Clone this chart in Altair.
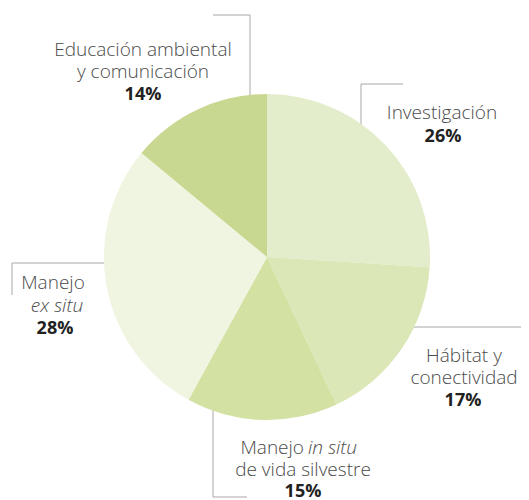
import altair as alt
import pandas as pd

# ---- data ----
categories = ["Investigación", "Hábitat y conectividad", "Manejo in situ de vida silvestre",
              "Manejo ex situ", "Educación ambiental y comunicación"]
values = [26, 17, 15, 28, 14]
colors = ["#e3edcb", "#dbe7b7", "#d3e1a3", "#eff5e1", "#c9d891"]

# label text lines (text, style) per category
label_lines = [
    [("Investigación", "normal")],
    [("Hábitat y", "normal"), ("conectividad", "normal")],
    [("Manejo", "normal"), ("in situ", "italic"), ("de vida silvestre", "normal")],
    [("Manejo", "normal"), ("ex situ", "italic")],
    [("Educación ambiental", "normal"), ("y comunicación", "normal")],
]

# ---- layout (chart pixel coordinates) ----
W, H = 513, 492
CX, CY, R = 259, 249, 163
label_pos = [
    # list of (x, baseline y, align) per line, then percent position
    ([(434, 111, "center")], (435, 134)),
    ([(456, 354, "center"), (456, 376, "center")], (455, 398)),
    ([(296, 446, "right"), (300, 446, "left"), (295, 468, "center")], (295, 489)),
    ([(45, 281, "center"), (49, 304, "center")], (47, 326)),
    ([(135, 48, "center"), (135, 70, "center")], (135, 92)),
]
segments = [
    (205, 7, 242, 7), (242, 7, 242, 100),
    (353, 76, 395, 76), (353, 76, 353, 130),
    (400, 319, 513, 319),
    (205, 390, 205, 489), (205, 489, 239, 489),
    (4, 255, 110, 255), (4, 255, 4, 287),
]

pie_df = pd.DataFrame({"cat": categories, "val": values, "ord": list(range(len(values)))})

rows = []
for lines, (pos, ppos), v in zip(label_lines, label_pos, values):
    for (t, st), (x, y, a) in zip(lines, pos):
        rows.append({"t": t, "x": x, "y": y, "style": st, "align": a})
    rows.append({"t": f"{v}%", "x": ppos[0], "y": ppos[1], "style": "bold", "align": "center"})
txt_df = pd.DataFrame(rows)
seg_df = pd.DataFrame(segments, columns=["x", "y", "x2", "y2"])

rules = alt.Chart(seg_df).mark_rule(color="#a8a8a8", strokeWidth=1).encode(
    x=alt.X("x:Q", scale=None, axis=None), y=alt.Y("y:Q", scale=None, axis=None),
    x2="x2:Q", y2="y2:Q")

pie = alt.Chart(pie_df).mark_arc(outerRadius=R).encode(
    theta=alt.Theta("val:Q", stack=True),
    order=alt.Order("ord:Q"),
    color=alt.Color("cat:N", scale=alt.Scale(domain=categories, range=colors), legend=None),
    x=alt.value(CX), y=alt.value(CY))

FONT = "Open Sans"
def text_layer(style, align):
    d = txt_df[(txt_df["style"] == style) & (txt_df["align"] == align)]
    kw = dict(font=FONT, fontSize=19, align=align, baseline="alphabetic")
    if style == "bold":
        kw.update(fontWeight="bold", color="#222222", fontSize=18)
    elif style == "italic":
        kw.update(fontStyle="italic", color="#4a4a4a", fontWeight=300)
    else:
        kw.update(color="#4a4a4a", fontWeight=300)
    return alt.Chart(d).mark_text(**kw).encode(
        x=alt.X("x:Q", scale=None, axis=None), y=alt.Y("y:Q", scale=None, axis=None), text="t:N")

layers = [rules, pie]
for st in ["normal", "italic", "bold"]:
    for al in ["center", "left", "right"]:
        if ((txt_df["style"] == st) & (txt_df["align"] == al)).any():
            layers.append(text_layer(st, al))

chart = alt.layer(*layers).properties(
    width=W, height=H, autosize=alt.AutoSizeParams(type="none"), padding=0
).configure_view(stroke=None).resolve_scale(color="independent")

chart.save("out.html", embed_options={"renderer": "svg", "actions": False})
